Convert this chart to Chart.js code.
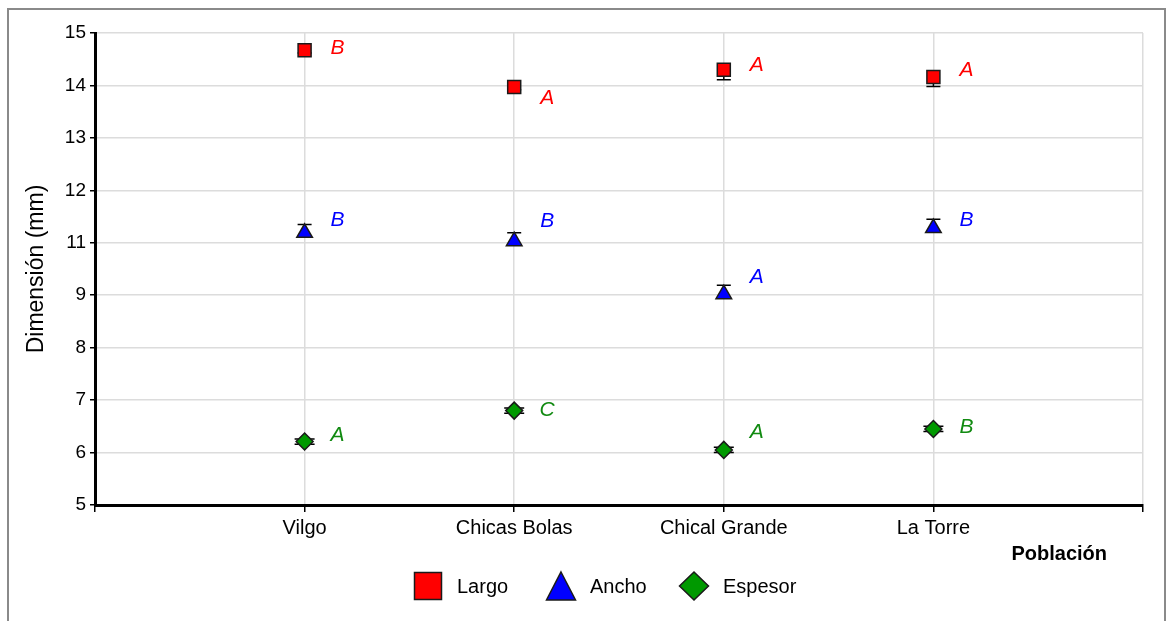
<!DOCTYPE html>
<html>
<head>
<meta charset="utf-8">
<script src="https://cdn.jsdelivr.net/npm/chart.js@4.4.0/dist/chart.umd.min.js"></script>
<style>
  html, body { margin: 0; padding: 0; background: #fff; }
  #wrap { width: 1173px; height: 621px; }
</style>
</head>
<body>
<div id="wrap"><canvas id="myChart" width="1173" height="621"></canvas></div>
<script>
// datos
const poblaciones = ['Vilgo', 'Chicas Bolas', 'Chical Grande', 'La Torre'];
const largo = [14.67, 13.97, 14.30, 14.16];
const largoErr = [0.05, 0.05, 0.19, 0.18];
const ancho = [11.19, 11.03, 9.02, 11.28];
const anchoErr = [0.16, 0.16, 0.17, 0.17];
const espesor = [6.21, 6.80, 6.05, 6.45];
const espesorErr = [0.05, 0.05, 0.05, 0.05];

// letras (grupos) y el valor donde aparecen
const largoLetras = ['B', 'A', 'A', 'A'];
const largoLetrasY = [14.72, 13.75, 14.38, 14.30];
const anchoLetras = ['B', 'B', 'A', 'B'];
const anchoLetrasY = [11.44, 11.42, 9.34, 11.44];
const espesorLetras = ['A', 'C', 'A', 'B'];
const espesorLetrasY = [6.33, 6.81, 6.39, 6.49];

// el eje Y salta el 10
const yTicks = [5, 6, 7, 8, 9, 11, 12, 13, 14, 15];

const FONT = '"Liberation Sans", Arial, sans-serif';

// valor -> posicion en el eje (indice de yTicks)
function toPos(v) {
  return v - 5 - (v >= 10 ? 1 : 0);
}

// dir: -1 solo hacia abajo, 1 solo hacia arriba, 0 ambos
const series = [
  { label: 'Largo', vals: largo, err: largoErr, letras: largoLetras, letrasY: largoLetrasY,
    fill: '#ff0000', text: '#ff0000', style: 'rect', radius: 9.2, cap: 14, dir: -1 },
  { label: 'Ancho', vals: ancho, err: anchoErr, letras: anchoLetras, letrasY: anchoLetrasY,
    fill: '#0000ff', text: '#0000ff', style: 'triangle', radius: 9, cap: 14, dir: 1 },
  { label: 'Espesor', vals: espesor, err: espesorErr, letras: espesorLetras, letrasY: espesorLetrasY,
    fill: '#009900', text: '#118a11', style: 'rectRot', radius: 8.5, cap: 20, dir: 0 }
];

const datasets = series.map(s => ({
  label: s.label,
  data: s.vals.map((v, i) => ({ x: i + 1, y: toPos(v) })),
  showLine: false,
  pointStyle: s.style,
  pointRadius: s.radius,
  pointHoverRadius: s.radius,
  backgroundColor: s.fill,
  borderColor: '#1a1a1a',
  borderWidth: 1.5
}));

function drawShape(ctx, style, x, y, w, h) {
  ctx.beginPath();
  if (style === 'rect') {
    ctx.rect(x - w / 2, y - h / 2, w, h);
  } else if (style === 'triangle') {
    ctx.moveTo(x, y - h / 2);
    ctx.lineTo(x + w / 2, y + h / 2);
    ctx.lineTo(x - w / 2, y + h / 2);
    ctx.closePath();
  } else {
    ctx.moveTo(x, y - h / 2);
    ctx.lineTo(x + w / 2, y);
    ctx.lineTo(x, y + h / 2);
    ctx.lineTo(x - w / 2, y);
    ctx.closePath();
  }
  ctx.fill();
  ctx.stroke();
}

const extras = {
  id: 'extras',
  beforeDatasetsDraw(chart) {
    // barras de error
    const { ctx, scales: { x, y } } = chart;
    ctx.save();
    ctx.strokeStyle = '#000';
    ctx.lineWidth = 1.5;
    series.forEach(s => {
      s.vals.forEach((v, i) => {
        const px = x.getPixelForValue(i + 1);
        const mid = y.getPixelForValue(toPos(v));
        const top = s.dir < 0 ? mid : y.getPixelForValue(toPos(v + s.err[i]));
        const bot = s.dir > 0 ? mid : y.getPixelForValue(toPos(v - s.err[i]));
        ctx.beginPath();
        ctx.moveTo(px, top); ctx.lineTo(px, bot);
        if (s.dir >= 0) { ctx.moveTo(px - s.cap / 2, top); ctx.lineTo(px + s.cap / 2, top); }
        if (s.dir <= 0) { ctx.moveTo(px - s.cap / 2, bot); ctx.lineTo(px + s.cap / 2, bot); }
        ctx.stroke();
      });
    });
    ctx.restore();
  },
  afterDatasetsDraw(chart) {
    const { ctx, scales: { x, y } } = chart;
    ctx.save();
    // letras
    ctx.font = 'italic 21px ' + FONT;
    ctx.textAlign = 'center';
    ctx.textBaseline = 'middle';
    series.forEach(s => {
      s.letras.forEach((l, i) => {
        ctx.fillStyle = s.text;
        ctx.fillText(l, x.getPixelForValue(i + 1) + 33, y.getPixelForValue(toPos(s.letrasY[i])));
      });
    });
    ctx.restore();
  },
  afterDraw(chart) {
    const { ctx } = chart;
    ctx.save();
    // marco
    ctx.strokeStyle = '#8a8a8a';
    ctx.lineWidth = 2;
    ctx.strokeRect(8, 9, 1157, 700);
    // titulo eje X
    ctx.fillStyle = '#000';
    ctx.font = 'bold 20px ' + FONT;
    ctx.textAlign = 'right';
    ctx.textBaseline = 'middle';
    ctx.fillText('Población', 1107, 554);
    // leyenda
    ctx.font = '20px ' + FONT;
    ctx.textAlign = 'left';
    ctx.strokeStyle = '#1a1a1a';
    ctx.lineWidth = 1.5;
    series.forEach((s, i) => {
      const cx = 428 + i * 133;
      ctx.fillStyle = s.fill;
      if (s.style === 'rect') drawShape(ctx, s.style, cx, 586, 27, 27);
      else drawShape(ctx, s.style, cx, 586, 29, 28);
      ctx.fillStyle = '#000';
      ctx.fillText(s.label, cx + 29, 587);
    });
    ctx.restore();
  }
};

const ctx = document.getElementById('myChart').getContext('2d');
const chart = new Chart(ctx, {
  type: 'scatter',
  data: { datasets: datasets },
  options: {
    responsive: false,
    animation: false,
    layout: { padding: { left: 10, right: 30, top: 33, bottom: 0 } },
    plugins: {
      legend: { display: false },
      tooltip: { enabled: false }
    },
    scales: {
      x: {
        type: 'linear',
        min: 0,
        max: 5,
        afterFit: s => { s.height = 116; },
        afterBuildTicks: s => { s.ticks = [0, 1, 2, 3, 4, 5].map(v => ({ value: v })); },
        ticks: {
          color: '#000',
          font: { family: FONT, size: 20 },
          padding: 4,
          maxRotation: 0,
          autoSkip: false,
          callback: v => poblaciones[v - 1] || ''
        },
        grid: { color: '#dcdcdc', lineWidth: 1.5, tickColor: '#000', tickLength: 7 },
        border: { color: '#000', width: 3 }
      },
      y: {
        type: 'linear',
        min: 0,
        max: yTicks.length - 1,
        afterFit: s => { s.width = 85; },
        afterBuildTicks: s => { s.ticks = yTicks.map((t, i) => ({ value: i })); },
        ticks: {
          color: '#000',
          font: { family: FONT, size: 19 },
          padding: 4,
          callback: v => yTicks[v]
        },
        grid: { color: '#dcdcdc', lineWidth: 1.5, tickColor: '#000', tickLength: 5 },
        border: { color: '#000', width: 3 },
        title: {
          display: true,
          text: 'Dimensión (mm)',
          color: '#000',
          font: { family: FONT, size: 23 },
          padding: { top: 13, bottom: 0 }
        }
      }
    }
  },
  plugins: [extras]
});
</script>
</body>
</html>
